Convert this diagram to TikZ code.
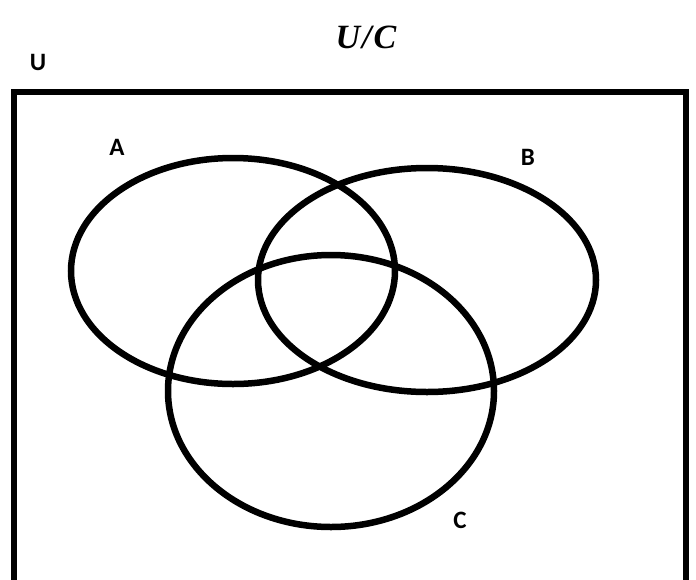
\documentclass[tikz,border=0pt]{standalone}
\usepackage{fontspec}
\setmainfont{Carlito}
\newfontfamily\titlefam{Liberation Serif}
\newcommand{\titlefont}{\titlefam\fontsize{34}{38}\selectfont\bfseries\itshape}
\newcommand{\labelfont}{\fontsize{25}{29}\selectfont\bfseries}
\begin{document}
\begin{tikzpicture}[x=1pt,y=-1pt,
  setline/.style={line width=6.5pt,black},
  setlabel/.style={font=\labelfont,inner sep=0pt},
  titlelabel/.style={font=\titlefont,inner sep=0pt}]
\useasboundingbox (0,0) rectangle (696,579);
\fill[white] (0,0) rectangle (696,579);
\draw[setline] (14,600) -- (14,92) -- (686,92) -- (686,600);
\draw[setline] (233,271) ellipse [x radius=162, y radius=113];
\draw[setline] (427,280) ellipse [x radius=169, y radius=112];
\draw[setline] (331,391) ellipse [x radius=163, y radius=136];
\node[setlabel] (lU) at (38,62) {U};
\node[setlabel] (lA) at (117,147) {A};
\node[setlabel] (lB) at (528,157) {B};
\node[setlabel] (lC) at (460,520) {C};
\node[titlelabel] (title) at (366,37) {U\kern2pt/\kern2pt C};
\end{tikzpicture}
\end{document}
